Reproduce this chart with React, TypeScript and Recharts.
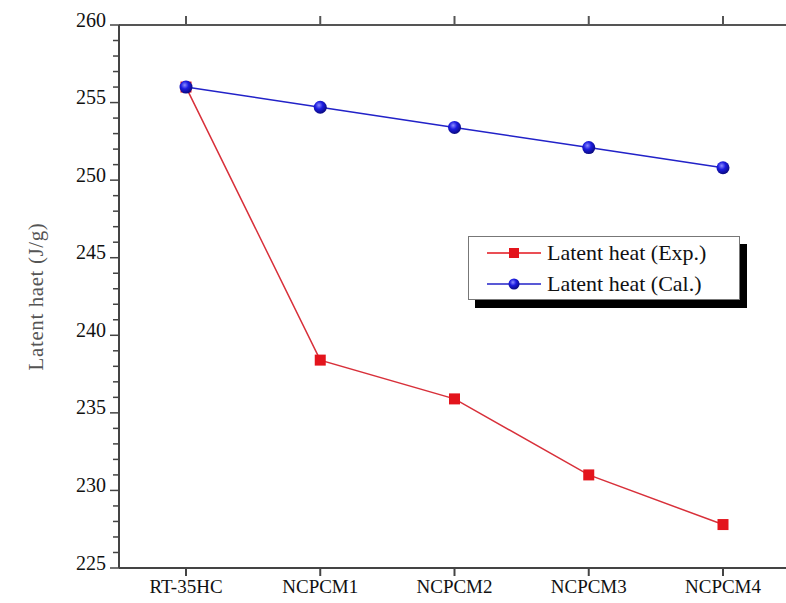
import React from 'react';
import {
    LineChart,
    Line,
    XAxis,
    YAxis,
    Legend,
} from 'recharts';

const samples = ['RT-35HC', 'NCPCM1', 'NCPCM2', 'NCPCM3', 'NCPCM4'];
const expHeat = [256.0, 238.4, 235.9, 231.0, 227.8];
const calHeat = [256.0, 254.7, 253.4, 252.1, 250.8];
const majorTicks = [225, 230, 235, 240, 245, 250, 255, 260];
// every whole J/g gets a tick, labels only on the majors
const yTicks = Array.from({ length: 36 }, (_, i) => 225 + i);

const FONT = '"Liberation Serif", "Times New Roman", serif';
const RED = '#e3141c';
const BLUE = '#2222c8';

const YTick = (props: any) => {
    const { x, y, payload } = props;
    const v = payload.value;
    const major = majorTicks.includes(v);
    return (
        <g>
            <line x1={major ? x - 9 : x - 6} x2={x + 1} y1={y} y2={y} stroke="#444" strokeWidth={1.5} />
            {major && (
                <text x={x - 13} y={y - 3} textAnchor="end" dominantBaseline="middle" fontSize={20} fill="#111" fontFamily={FONT}>
                    {v}
                </text>
            )}
        </g>
    );
};

const XTick = (props: any) => {
    const { x, y, payload } = props;
    return (
        <text x={x} y={y + 15} textAnchor="middle" fontSize={19} fill="#111" fontFamily={FONT}>
            {payload.value}
        </text>
    );
};

// top axis keeps its tick marks but has no labels
const NoLabel = () => <g />;

const SquareDot = (props: any) => {
    const { cx, cy } = props;
    if (cx == null || cy == null) return null;
    return <rect x={cx - 5.5} y={cy - 5.5} width={11} height={11} fill={RED} key={`${cx}`} />;
};

const BallDot = (props: any) => {
    const { cx, cy } = props;
    if (cx == null || cy == null) return null;
    return <circle cx={cx} cy={cy} r={6.5} fill="url(#ball)" key={`${cx}`} />;
};

const LegendBox = () => (
    <div
        style={{
            width: 270,
            height: 62,
            background: '#fff',
            border: '1px solid #777',
            boxShadow: '7px 8px 0 #000',
            fontFamily: FONT,
            fontSize: 22,
            color: '#111',
        }}
    >
        {[
            { name: 'Latent heat (Exp.)', color: RED, square: true },
            { name: 'Latent heat (Cal.)', color: BLUE, square: false },
        ].map((e) => (
            <div key={e.name} style={{ display: 'flex', alignItems: 'center', height: 31 }}>
                <svg width={78} height={20} style={{ flex: 'none' }}>
                    <line x1={18} x2={72} y1={10} y2={10} stroke={e.color} strokeWidth={1.5} />
                    {e.square
                        ? <rect x={40} y={5} width={10} height={10} fill={RED} />
                        : <circle cx={45} cy={10} r={5.5} fill="url(#ball)" />}
                </svg>
                <span style={{ lineHeight: '22px' }}>{e.name}</span>
            </div>
        ))}
    </div>
);

export default function App() {
    const data = samples.map((s, i) => ({ sample: s, exp: expHeat[i], cal: calHeat[i] }));

    return (
        <div style={{ position: 'absolute', left: 0, top: 0, width: 786, height: 603, background: '#fff' }}>
            <LineChart width={786} height={603} data={data} margin={{ top: 0, right: 0, bottom: 0, left: 0 }}>
                <defs>
                    <radialGradient id="ball" cx="40%" cy="35%" r="65%">
                        <stop offset="0%" stopColor="#8c8cff" />
                        <stop offset="45%" stopColor="#1c1ce0" />
                        <stop offset="100%" stopColor="#0a0a80" />
                    </radialGradient>
                </defs>
                <XAxis
                    dataKey="sample"
                    height={35}
                    padding={{ left: 67, right: 63 }}
                    stroke="#444"
                    strokeWidth={2}
                    tickSize={8}
                    tick={<XTick />}
                    interval={0}
                />
                <XAxis
                    xAxisId="top"
                    orientation="top"
                    dataKey="sample"
                    height={25}
                    padding={{ left: 67, right: 63 }}
                    stroke="#555"
                    strokeWidth={2}
                    tickSize={9}
                    tick={<NoLabel />}
                    interval={0}
                />
                <YAxis
                    width={119}
                    domain={[225, 260]}
                    ticks={yTicks}
                    interval={0}
                    stroke="#444"
                    strokeWidth={2}
                    tickLine={false}
                    tickSize={0}
                    tickMargin={0}
                    tick={<YTick />}
                    label={{
                        value: 'Latent haet (J/g)',
                        angle: -90,
                        position: 'insideLeft',
                        offset: 36,
                        style: { fontFamily: FONT, fontSize: 21, fill: '#555', letterSpacing: 0.6, textAnchor: 'middle' },
                    }}
                />
                <Legend
                    layout="vertical"
                    align="center"
                    verticalAlign="middle"
                    content={<LegendBox />}
                    wrapperStyle={{ position: 'absolute', left: 468, top: 236, width: 'auto', height: 'auto' }}
                />
                <Line
                    dataKey="exp"
                    name="Latent heat (Exp.)"
                    stroke="#d8303a"
                    strokeWidth={1.5}
                    dot={<SquareDot />}
                    isAnimationActive={false}
                />
                <Line
                    dataKey="cal"
                    name="Latent heat (Cal.)"
                    stroke={BLUE}
                    strokeWidth={1.5}
                    dot={<BallDot />}
                    isAnimationActive={false}
                />
            </LineChart>
        </div>
    );
}
